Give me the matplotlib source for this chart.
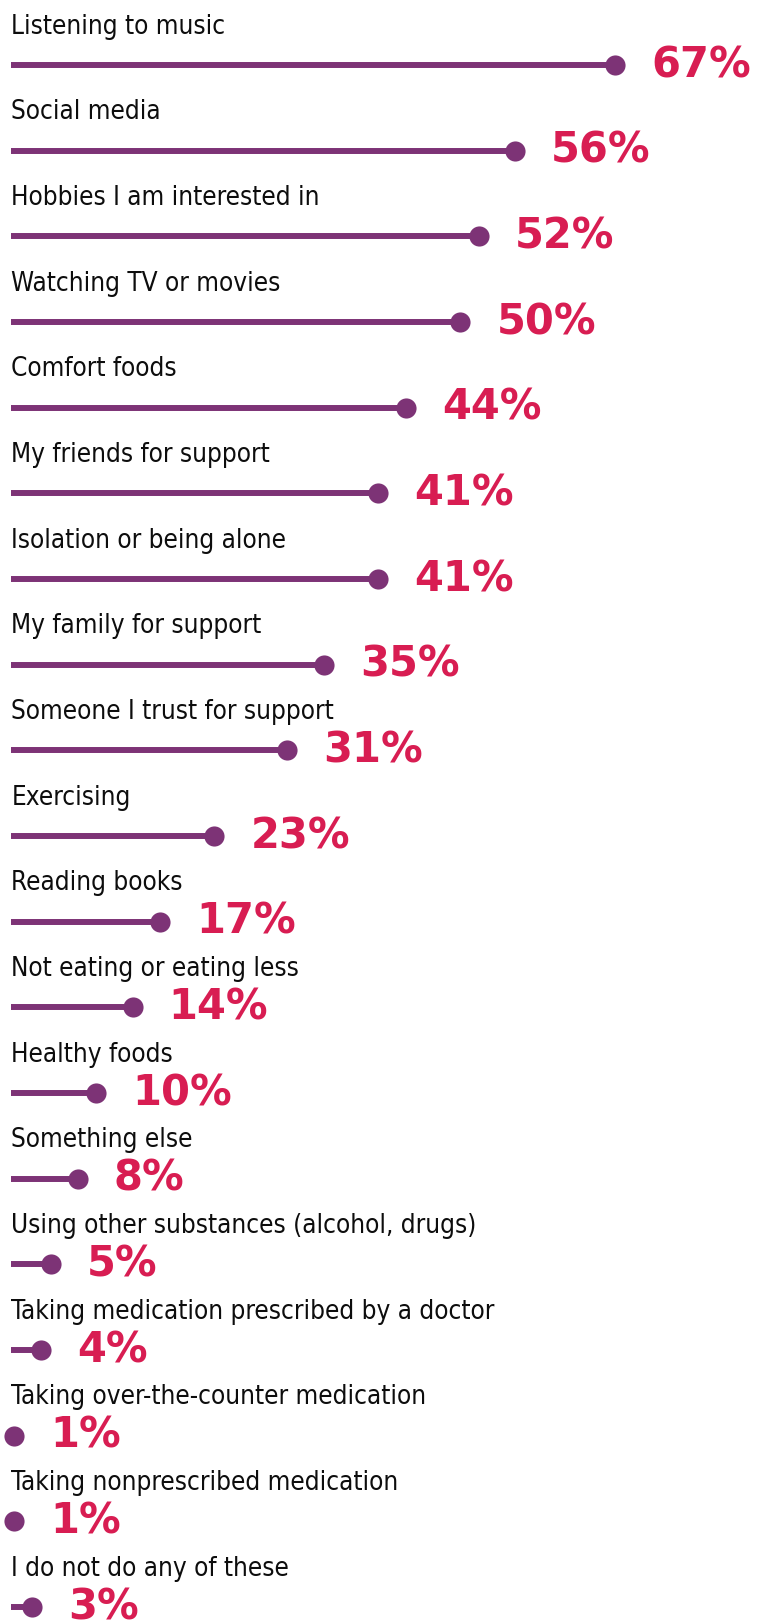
import matplotlib
matplotlib.use("Agg")
import matplotlib.pyplot as plt
import numpy as np

# coping strategies, share of respondents (%)
labels = [
    "Listening to music",
    "Social media",
    "Hobbies I am interested in",
    "Watching TV or movies",
    "Comfort foods",
    "My friends for support",
    "Isolation or being alone",
    "My family for support",
    "Someone I trust for support",
    "Exercising",
    "Reading books",
    "Not eating or eating less",
    "Healthy foods",
    "Something else",
    "Using other substances (alcohol, drugs)",
    "Taking medication prescribed by a doctor",
    "Taking over-the-counter medication",
    "Taking nonprescribed medication",
    "I do not do any of these",
]
values = [67, 56, 52, 50, 44, 41, 41, 35, 31, 23, 17, 14, 10, 8, 5, 4, 1, 1, 3]

PURPLE = "#7d3376"
CRIMSON = "#d81d52"
LINE_START = 0.7

fig = plt.figure(figsize=(7.70, 16.22), dpi=100)
ax = fig.add_axes([0, 0, 1, 1])
ax.set_xlim(-0.55, 84.0)
ax.set_ylim(18.175, -0.759)
ax.axis("off")

for i, (lab, val) in enumerate(zip(labels, values)):
    ax.plot([LINE_START, val], [i, i], color=PURPLE, lw=4.3,
            solid_capstyle="butt", zorder=2)
    ax.plot(val, i, "o", color=PURPLE, ms=14.5, mec="none", zorder=3)
    # category name above the line
    ax.annotate(lab, xy=(LINE_START, i), xytext=(0, 22.5),
                textcoords="offset points", ha="left", va="baseline",
                fontsize=18.7, family="DejaVu Sans", fontstretch="condensed",
                color="#0d0d0d")
    # value to the right of the dot
    ax.annotate(f"{val}%", xy=(val, i), xytext=(26, 0),
                textcoords="offset points", ha="left", va="center",
                fontsize=30, fontweight="bold", family="DejaVu Sans",
                color=CRIMSON)

fig.savefig("out.png", dpi=100, facecolor="white")
